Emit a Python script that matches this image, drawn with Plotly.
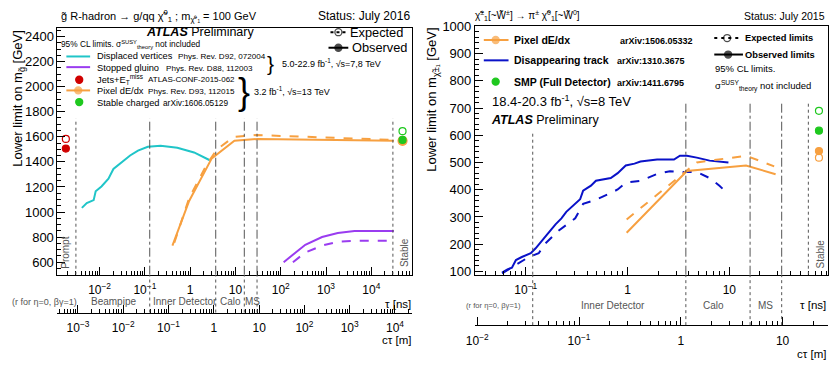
import numpy as np
import plotly.graph_objects as go

W, H = 831, 366
C_LIGHT = 0.299792458  # m per ns

# ---------------- left panel: gluino R-hadrons (tau [ns], mass [GeV])
dv_tau = [0.00406, 0.00521, 0.0074, 0.0082, 0.0110, 0.0157, 0.0202, 0.0301,
          0.0472, 0.0705, 0.116, 0.223, 0.521, 1.22, 2.72]
dv_mass = [1033, 1072, 1095, 1165, 1204, 1266, 1343, 1397, 1451, 1490, 1521,
           1529, 1513, 1475, 1413]

pix16_obs_tau = [0.406, 0.95, 3.0, 9.5, 31.6, 31600]
pix16_obs_mass = [732, 1088, 1428, 1568, 1583, 1568]
pix16_exp_tau = [0.447, 0.95, 2.35, 3.89, 9.1, 29, 31600]
pix16_exp_mass = [755, 1111, 1382, 1498, 1598, 1614, 1575]

sg_obs_tau = [116, 212, 349, 818, 1820, 4260, 31600]
sg_obs_mass = [600, 677, 739, 801, 832, 848, 848]
sg_exp_tau = [186, 349, 818, 1820, 4260, 31600]
sg_exp_mass = [600, 677, 732, 763, 770, 772]

prompt_tau = 0.0018
jets_obs, jets_exp = 1506, 1583
stable16_tau = 49000
sc_obs, sc_exp = 1575, 1645
pix16_stable_obs = 1568

left_prompt_tau = 0.0030
left_stable_tau = 30000
left_bounds_tau = [0.128, 3.67, 15.7, 30]
left_tau_ticks = [0.01, 0.1, 1, 10, 100, 1000, 10000]
left_tau_text = ["10<sup>−2</sup>", "10<sup>−1</sup>", "1", "10",
                 "10<sup>2</sup>", "10<sup>3</sup>", "10<sup>4</sup>"]
left_ct_ticks = [0.001, 0.01, 0.1, 1, 10, 100, 1000, 10000]
left_ct_text = ["10<sup>−3</sup>", "10<sup>−2</sup>", "10<sup>−1</sup>", "1", "10",
                "10<sup>2</sup>", "10<sup>3</sup>", "10<sup>4</sup>"]

# ---------------- right panel: charginos
dt_obs_tau = [0.0585, 0.0654, 0.0731, 0.080, 0.0914, 0.112, 0.125, 0.143, 0.167,
              0.196, 0.224, 0.250, 0.306, 0.342, 0.366, 0.437, 0.489, 0.684, 0.80,
              0.96, 1.17, 1.34, 1.95, 2.86, 3.27, 3.83, 4.79, 6.4, 9.8]
dt_obs_mass = [96, 107, 114, 142, 153, 167, 185, 213, 242, 273, 295, 319, 348,
               365, 397, 415, 433, 443, 461, 489, 496, 504, 511, 511, 525, 525,
               518, 507, 500]
dt_exp_tau = [0.0585, 0.080, 0.107, 0.134, 0.156, 0.209, 0.306, 0.366, 0.478,
              0.64, 0.80, 0.96, 1.34, 1.95, 2.61, 3.57, 4.79, 6.4, 8.0, 9.8]
dt_exp_mass = [93, 125, 153, 167, 203, 249, 295, 348, 362, 383, 401, 426, 433,
               458, 468, 465, 465, 443, 415, 383]

pix15_obs_tau = [0.98, 3.83, 14.6, 28.5]
pix15_obs_mass = [242, 469, 489, 457]
pix15_exp_tau = [0.98, 4.79, 14.6, 27.6]
pix15_exp_mass = [291, 500, 525, 486]

stable15_tau = 76
smp_obs, smp_exp = 617, 690
pix15_stable_obs, pix15_stable_exp = 542, 518

right_pipe_tau = 0.117
right_stable_tau = 59.8
right_bounds_tau = [3.74, 16.0, 32.7]
right_tau_ticks = [0.1, 1, 10]
right_tau_text = ["10<sup>−1</sup>", "1", "10"]
right_ct_ticks = [0.01, 0.1, 1, 10]
right_ct_text = ["10<sup>−2</sup>", "10<sup>−1</sup>", "1", "10"]

CYAN = "#20c5c8"
PURPLE = "#9a3cf0"
ORANGE = "#f7a040"
RED = "#d00000"
GREEN = "#1fc81f"
BLUE = "#0a12c8"
GRAY = "#555555"
FONT = "Liberation Sans, Arial, sans-serif"


def px(x):
    return x / W


def py(y):
    return 1 - y / H


fig = go.Figure()


def line(xs, ys, color, dash="solid", xa="x", ya="y", width=2):
    fig.add_trace(go.Scatter(x=xs, y=ys, mode="lines", xaxis=xa, yaxis=ya,
                             line=dict(color=color, width=width, dash=dash),
                             showlegend=False, hoverinfo="skip"))


def dot(xs, ys, color, filled=True, xa="x", ya="y", size=7):
    fig.add_trace(go.Scatter(
        x=xs, y=ys, mode="markers", xaxis=xa, yaxis=ya, showlegend=False,
        marker=dict(symbol="circle" if filled else "circle-open", color=color,
                    size=size, line=dict(color=color, width=1.2)),
        hoverinfo="skip"))


# left curves
line(dv_tau, dv_mass, CYAN)
line(sg_exp_tau, sg_exp_mass, PURPLE, "dash")
line(sg_obs_tau, sg_obs_mass, PURPLE)
line(pix16_exp_tau, pix16_exp_mass, ORANGE, "dash")
line(pix16_obs_tau, pix16_obs_mass, ORANGE)
dot([prompt_tau], [jets_obs], RED)
dot([prompt_tau], [jets_exp], RED, False)
dot([stable16_tau], [pix16_stable_obs], ORANGE, size=9)
dot([stable16_tau], [sc_obs], GREEN)
dot([stable16_tau], [sc_exp], GREEN, False)

# right curves
line(dt_exp_tau, dt_exp_mass, BLUE, "dash", "x3", "y3")
line(dt_obs_tau, dt_obs_mass, BLUE, "solid", "x3", "y3")
line(pix15_exp_tau, pix15_exp_mass, ORANGE, "dash", "x3", "y3")
line(pix15_obs_tau, pix15_obs_mass, ORANGE, "solid", "x3", "y3")
dot([stable15_tau], [smp_obs], GREEN, True, "x3", "y3")
dot([stable15_tau], [smp_exp], GREEN, False, "x3", "y3")
dot([stable15_tau], [pix15_stable_obs], ORANGE, True, "x3", "y3")
dot([stable15_tau], [pix15_stable_exp], ORANGE, False, "x3", "y3")

# dummy traces so the c*tau axes render
fig.add_trace(go.Scatter(x=[1], y=[None], xaxis="x2", yaxis="y", showlegend=False))
fig.add_trace(go.Scatter(x=[1], y=[None], xaxis="x4", yaxis="y3", showlegend=False))


# legend symbols drawn on a pixel overlay
def sym(xs, ys, color, dash="solid", marker=None, open_=False):
    mode = {"lm": "lines+markers", "m": "markers"}.get(marker, "lines")
    fig.add_trace(go.Scatter(
        x=xs, y=ys, mode=mode, xaxis="x5", yaxis="y5", showlegend=False, hoverinfo="skip",
        line=dict(color=color, width=2, dash=dash),
        marker=dict(size=[0, 7, 0] if marker == "lm" else 7, color=color,
                    symbol="circle-open" if open_ else "circle",
                    line=dict(color=color, width=1.3))))


sym([58, 82], [51, 51], CYAN)
sym([58, 82], [62, 62], PURPLE)
sym([71], [75], RED, marker="m")
sym([58, 70, 82], [86, 86, 86], ORANGE, marker="lm")
sym([71], [98], GREEN, marker="m")
sym([325, 333, 341], [26, 26, 26], "black", "3px,3px", "lm", True)
sym([323, 333, 343], [42, 42, 42], "black", "solid", "lm")
sym([480, 492, 505], [34, 34, 34], ORANGE, marker="lm")
sym([480, 505], [55, 55], BLUE)
sym([492], [77], GREEN, marker="m")
sym([713, 726, 739], [32, 32, 32], "black", "3px,4px", "lm", True)
sym([713, 727, 742], [49, 49, 49], "black", "solid", "lm")

shapes = []
# vertical region lines inside plots
for t in [left_prompt_tau, left_stable_tau]:
    shapes.append(dict(type="line", xref="x", yref="y", x0=t, x1=t, y0=500, y1=1745,
                       line=dict(color=GRAY, width=1, dash="dot")))
for t in left_bounds_tau:
    shapes.append(dict(type="line", xref="x", yref="y", x0=t, x1=t, y0=500, y1=1745,
                       line=dict(color=GRAY, width=1, dash="dashdot")))
    shapes.append(dict(type="line", xref="x", yref="paper", x0=t, x1=t,
                       y0=py(315), y1=py(276), line=dict(color=GRAY, width=1, dash="dot")))
shapes.append(dict(type="line", xref="x3", yref="y3", x0=right_pipe_tau, x1=right_pipe_tau,
                   y0=88, y1=615, line=dict(color=GRAY, width=1, dash="dot")))
shapes.append(dict(type="line", xref="x3", yref="paper", x0=right_pipe_tau, x1=right_pipe_tau,
                   y0=py(328), y1=py(276), line=dict(color=GRAY, width=1, dash="dot")))
shapes.append(dict(type="line", xref="x3", yref="y3", x0=right_stable_tau, x1=right_stable_tau,
                   y0=88, y1=725, line=dict(color=GRAY, width=1, dash="dot")))
for t in right_bounds_tau:
    shapes.append(dict(type="line", xref="x3", yref="y3", x0=t, x1=t, y0=88, y1=725,
                       line=dict(color=GRAY, width=1, dash="dashdot")))
    shapes.append(dict(type="line", xref="x3", yref="paper", x0=t, x1=t,
                       y0=py(328), y1=py(276), line=dict(color=GRAY, width=1, dash="dot")))

ann = []


def txt(x, y, s, size=11, anchor="left", color="black", angle=0, yanchor="middle"):
    ann.append(dict(x=px(x), y=py(y), xref="paper", yref="paper", text=s, showarrow=False,
                    xanchor=anchor, yanchor=yanchor, textangle=angle, borderpad=0,
                    font=dict(size=size, color=color, family=FONT)))


# left panel text
txt(52, 9, "g̃ R-hadron → g/qq χ̃<sup>0</sup><sub>1</sub> ; m<sub>χ̃⁰₁</sub> = 100 GeV", 11)
txt(406, 9, "Status: July 2016", 12, "right")
txt(193, 26, "<b><i>ATLAS</i></b> Preliminary", 12.5, "center")
txt(52, 39, "95% CL limits. σ<sup>SUSY</sup><sub>theory</sub> not included", 8.3)
txt(88, 51, "Displaced vertices", 9.3)
txt(170, 51, "Phys. Rev. D92, 072004", 8.1)
txt(88, 63, "Stopped gluino", 9.3)
txt(158, 63, "Phys. Rev. D88, 112003", 8.1)
txt(88, 75, "Jets+E<sub>T</sub><sup>miss</sup>", 9.3)
txt(140, 75, "ATLAS-CONF-2015-062", 8)
txt(88, 87, "Pixel dE/dx", 9.3)
txt(140, 87, "Phys. Rev. D93, 112015", 8.1)
txt(88, 99, "Stable charged", 9.3)
txt(155, 99, "arXiv:1606.05129", 8.3)
txt(260, 58, "}", 21, "left")
txt(275, 58, "5.0-22.9 fb<sup>-1</sup>, √s=7,8 TeV", 9)
txt(231, 87, "}", 36, "left")
txt(247, 87, "3.2 fb<sup>-1</sup>, √s=13 TeV", 9)
txt(344, 26, "Expected", 12.8)
txt(346, 42, "Observed", 12.8)
txt(10, 22, "Lower limit on m<sub>g̃</sub> [GeV]", 13, "center", angle=-90, yanchor="top")
txt(57, 253, "Prompt", 10, "center", GRAY, -90)
txt(400, 253, "Stable", 10, "center", GRAY, -90)
txt(2, 304, "(r for η=0, βγ=1)", 9, "left", GRAY)
txt(82, 304, "Beampipe", 10, "left", GRAY)
txt(145, 304, "Inner Detector", 10, "left", GRAY)
txt(212, 304, "Calo", 10, "left", GRAY)
txt(238, 304, "MS", 10, "left", GRAY)
txt(407, 306, "τ [ns]", 11.5, "right")
txt(407, 343, "cτ [m]", 11.5, "right")

# right panel text
txt(470, 9, "χ̃<sup>±</sup><sub>1</sub>[~W̃<sup>±</sup>] → π<sup>±</sup> χ̃<sup>0</sup><sub>1</sub>[~W̃<sup>0</sup>]", 10)
txt(826, 9, "Status: July 2015", 10.5, "right")
txt(510, 34, "<b>Pixel dE/dx</b>", 10.5)
txt(617, 35, "<b>arXiv:1506.05332</b>", 9)
txt(510, 55, "<b>Disappearing track</b>", 10.5)
txt(614, 56, "<b>arXiv:1310.3675</b>", 9)
txt(510, 77, "<b>SMP (Full Detector)</b>", 10.5)
txt(614, 78, "<b>arXiv:1411.6795</b>", 9)
txt(487, 97, "18.4-20.3 fb<sup>-1</sup>, √s=8 TeV", 13)
txt(486, 116, "<b><i>ATLAS</i></b> Preliminary", 12.5)
txt(743, 32, "<b>Expected limits</b>", 9.3)
txt(743, 49, "<b>Observed limits</b>", 9.3)
txt(713, 63, "95% CL limits.", 9.5)
txt(713, 81, "σ<sup>SUSY</sup><sub>theory</sub> not included", 9.5)
txt(428, 20, "Lower limit on m<sub>χ̃±₁</sub> [GeV]", 13, "center", angle=-90, yanchor="top")
txt(820, 255, "Stable", 10, "center", GRAY, -90)
txt(490, 308, "(r for η=0, βγ=1)", 7.6, "center", GRAY)
txt(611, 308, "Inner Detector", 10, "center", GRAY)
txt(712, 308, "Calo", 10, "center", GRAY)
txt(765, 308, "MS", 10, "center", GRAY)
txt(827, 307, "τ [ns]", 11.5, "right")
txt(827, 358, "cτ [m]", 11.5, "right")

L_RANGE = [-2.93, 4.89]
R_RANGE = [-1.5, 1.97]
OFF = np.log10(C_LIGHT)

tick_common = dict(showline=True, linecolor="black", linewidth=1, ticks="inside",
                   tickcolor="black", showgrid=False, zeroline=False,
                   tickfont=dict(size=12, family=FONT, color="black"))
log_minor = dict(ticks="inside", ticklen=4, tickcolor="black", dtick="D1", showgrid=False)
yfont = dict(size=13, family=FONT, color="black")

fig.update_layout(
    width=W, height=H, margin=dict(l=0, r=0, t=0, b=0),
    paper_bgcolor="white", plot_bgcolor="rgba(0,0,0,0)",
    showlegend=False, font=dict(family=FONT),
    xaxis=dict(domain=[px(49), px(407)], anchor="y", type="log", range=L_RANGE,
               tickvals=left_tau_ticks, ticktext=left_tau_text, ticklen=8,
               minor=log_minor, mirror=True, ticklabelstandoff=4, **tick_common),
    yaxis=dict(domain=[py(276), py(22)], anchor="x", range=[500, 2465], dtick=200,
               ticklen=8, minor=dict(ticks="inside", ticklen=4, dtick=50, tickcolor="black"),
               mirror=True, **{**tick_common, "tickfont": yfont}),
    xaxis2=dict(overlaying="x", anchor="free", position=py(315), type="log",
                range=[L_RANGE[0] + OFF, L_RANGE[1] + OFF], tickvals=left_ct_ticks,
                ticktext=left_ct_text, ticklen=8, minor=log_minor, ticklabelstandoff=4,
                **tick_common),
    xaxis3=dict(domain=[px(471), px(828)], anchor="y3", type="log", range=R_RANGE,
                tickvals=right_tau_ticks, ticktext=right_tau_text, ticklen=8,
                minor=log_minor, mirror=True, ticklabelstandoff=4, **tick_common),
    yaxis3=dict(domain=[py(276), py(20)], anchor="x3", range=[88, 1000], dtick=100,
                ticklen=8, minor=dict(ticks="inside", ticklen=4, dtick=20, tickcolor="black"),
                mirror=True, **{**tick_common, "tickfont": yfont}),
    xaxis4=dict(overlaying="x3", anchor="free", position=py(328), type="log",
                range=[R_RANGE[0] + OFF, R_RANGE[1] + OFF], tickvals=right_ct_ticks,
                ticktext=right_ct_text, ticklen=8, minor=log_minor, ticklabelstandoff=4,
                **tick_common),
    xaxis5=dict(domain=[0, 1], anchor="y5", range=[0, W], visible=False, fixedrange=True),
    yaxis5=dict(domain=[0, 1], anchor="x5", range=[H, 0], visible=False, fixedrange=True),
    shapes=shapes, annotations=ann,
)

fig.write_html("out.html", config={"displayModeBar": False},
               post_script="document.body.style.margin='0';document.body.style.overflow='hidden';")
